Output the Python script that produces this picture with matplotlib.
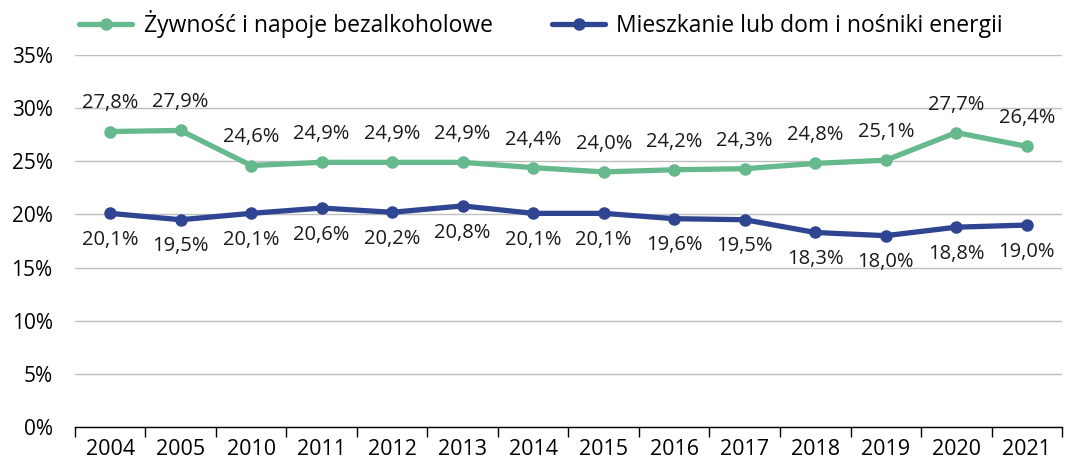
import matplotlib
matplotlib.use("Agg")
import matplotlib.pyplot as plt
import numpy as np

years = ["2004", "2005", "2010", "2011", "2012", "2013", "2014", "2015", "2016", "2017", "2018", "2019", "2020", "2021"]
food = [27.8, 27.9, 24.6, 24.9, 24.9, 24.9, 24.4, 24.0, 24.2, 24.3, 24.8, 25.1, 27.7, 26.4]
housing = [20.1, 19.5, 20.1, 20.6, 20.2, 20.8, 20.1, 20.1, 19.6, 19.5, 18.3, 18.0, 18.8, 19.0]
name_food = "Żywność i napoje bezalkoholowe"
name_housing = "Mieszkanie lub dom i nośniki energii"

green = "#66b98c"
blue = "#2f4592"

plt.rcParams['font.family'] = ['Open Sans', 'DejaVu Sans']

fig = plt.figure(figsize=(10.69, 4.66), dpi=100)
ax = fig.add_axes([0.070, 0.0837, 0.9235, 0.7983])

x = np.arange(len(years))
l1, = ax.plot(x, food, color=green, lw=3.8, marker='o', ms=8, solid_capstyle='round', label=name_food)
l2, = ax.plot(x, housing, color=blue, lw=3.8, marker='o', ms=8, solid_capstyle='round', label=name_housing)

for xi, v in zip(x, food):
    ax.annotate(f"{v:.1f}%".replace('.', ','), (xi, v), xytext=(0, 13), textcoords='offset points',
                ha='center', va='bottom', fontsize=14.5, color='#1a1a1a')
for xi, v in zip(x, housing):
    ax.annotate(f"{v:.1f}%".replace('.', ','), (xi, v), xytext=(0, -12), textcoords='offset points',
                ha='center', va='top', fontsize=14.5, color='#1a1a1a')

ax.set_xlim(-0.5, len(years) - 0.5)
ax.set_ylim(0, 35)
ax.set_yticks(np.arange(0, 36, 5))
ax.set_yticklabels([f"{v}%" for v in range(0, 36, 5)], fontsize=15)
ax.set_xticks(x)
ax.set_xticklabels(years, fontsize=15.5)
ax.set_xticks(np.arange(-0.5, len(years)), minor=True)
ax.tick_params(axis='x', which='major', length=0, pad=9)
ax.tick_params(axis='x', which='minor', length=7, width=1, color='black', direction='out')
ax.tick_params(axis='y', length=0, pad=16)
for lab in ax.get_yticklabels():
    lab.set_horizontalalignment('right')

for s in ['top', 'right', 'left']:
    ax.spines[s].set_visible(False)
ax.spines['bottom'].set_color('black')
ax.spines['bottom'].set_linewidth(1)
ax.yaxis.grid(True, color='#bfbfbf', lw=1)
ax.set_axisbelow(True)

fig.legend(handles=[l1, l2], loc='upper left', bbox_to_anchor=(0.055, 1.022), ncol=2, frameon=False,
           fontsize=16.5, handlelength=2.3, columnspacing=2.6, handletextpad=0.5)

fig.savefig("out.png", dpi=100)
